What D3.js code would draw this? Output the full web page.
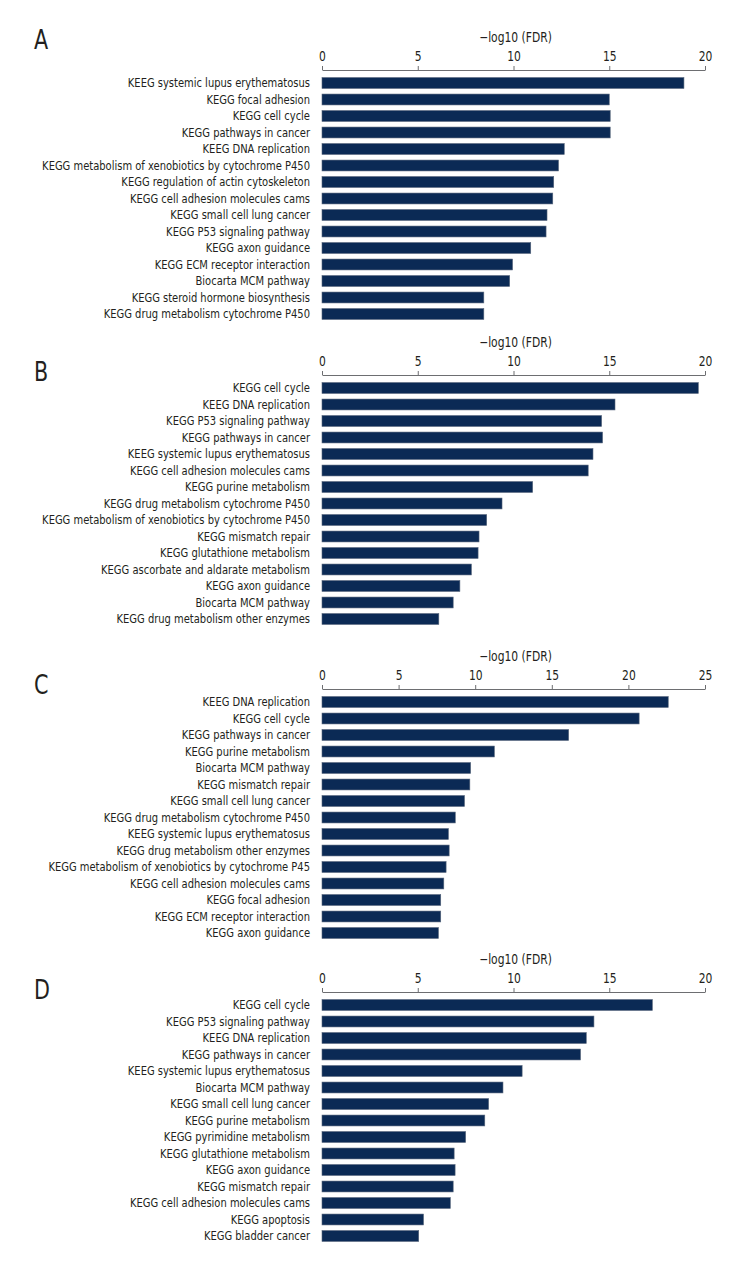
<!DOCTYPE html>
<html>
<head>
<meta charset="utf-8">
<script src="https://cdn.jsdelivr.net/npm/d3@7"></script>
<style>
  html, body { margin: 0; padding: 0; background: #fff; }
  svg { display: block; }
  text { font-family: "Liberation Sans Narrow", "DejaVu Sans Condensed", "Liberation Sans", sans-serif; fill: #231f20; }
</style>
</head>
<body>
<svg id="chart" width="750" height="1275"></svg>
<script>
// ---------- DATA ----------
const axisTitle = "\u2212log10 (FDR)";

const panelLetters = ["A", "B", "C", "D"];

const categoriesA = [
  "KEEG systemic lupus erythematosus",
  "KEGG focal adhesion",
  "KEGG cell cycle",
  "KEGG pathways in cancer",
  "KEEG DNA replication",
  "KEGG metabolism of xenobiotics by cytochrome P450",
  "KEGG regulation of actin cytoskeleton",
  "KEGG cell adhesion molecules cams",
  "KEGG small cell lung cancer",
  "KEGG P53 signaling pathway",
  "KEGG axon guidance",
  "KEGG ECM receptor interaction",
  "Biocarta MCM pathway",
  "KEGG steroid hormone biosynthesis",
  "KEGG drug metabolism cytochrome P450"
];
const valuesA = [18.9, 15.0, 15.05, 15.05, 12.65, 12.35, 12.1, 12.05, 11.75, 11.7, 10.9, 9.95, 9.8, 8.45, 8.45];
const ticksA = [0, 5, 10, 15, 20];

const categoriesB = [
  "KEGG cell cycle",
  "KEEG DNA replication",
  "KEGG P53 signaling pathway",
  "KEGG pathways in cancer",
  "KEEG systemic lupus erythematosus",
  "KEGG cell adhesion molecules cams",
  "KEGG purine metabolism",
  "KEGG drug metabolism cytochrome P450",
  "KEGG metabolism of xenobiotics by cytochrome P450",
  "KEGG mismatch repair",
  "KEGG glutathione metabolism",
  "KEGG ascorbate and aldarate metabolism",
  "KEGG axon guidance",
  "Biocarta MCM pathway",
  "KEGG drug metabolism other enzymes"
];
const valuesB = [19.65, 15.3, 14.6, 14.65, 14.15, 13.9, 11.0, 9.4, 8.6, 8.2, 8.15, 7.8, 7.2, 6.85, 6.1];
const ticksB = [0, 5, 10, 15, 20];

const categoriesC = [
  "KEEG DNA replication",
  "KEGG cell cycle",
  "KEGG pathways in cancer",
  "KEGG purine metabolism",
  "Biocarta MCM pathway",
  "KEGG mismatch repair",
  "KEGG small cell lung cancer",
  "KEGG drug metabolism cytochrome P450",
  "KEEG systemic lupus erythematosus",
  "KEGG drug metabolism other enzymes",
  "KEGG metabolism of xenobiotics by cytochrome P45",
  "KEGG cell adhesion molecules cams",
  "KEGG focal adhesion",
  "KEGG ECM receptor interaction",
  "KEGG axon guidance"
];
const valuesC = [22.6, 20.7, 16.1, 11.25, 9.7, 9.65, 9.3, 8.7, 8.25, 8.3, 8.1, 7.95, 7.75, 7.75, 7.6];
const ticksC = [0, 5, 10, 15, 20, 25];

const categoriesD = [
  "KEGG cell cycle",
  "KEGG P53 signaling pathway",
  "KEEG DNA replication",
  "KEGG pathways in cancer",
  "KEEG systemic lupus erythematosus",
  "Biocarta MCM pathway",
  "KEGG small cell lung cancer",
  "KEGG purine metabolism",
  "KEGG pyrimidine metabolism",
  "KEGG glutathione metabolism",
  "KEGG axon guidance",
  "KEGG mismatch repair",
  "KEGG cell adhesion molecules cams",
  "KEGG apoptosis",
  "KEGG bladder cancer"
];
const valuesD = [17.25, 14.2, 13.8, 13.5, 10.45, 9.45, 8.7, 8.5, 7.5, 6.9, 6.95, 6.85, 6.7, 5.3, 5.05];
const ticksD = [0, 5, 10, 15, 20];

// ---------- LAYOUT ----------
const svg = d3.select("#chart");
const x0 = 322, x1 = 705;
const rowStep = 16.5;
const labelRight = 310;
const longestLabelWidth = 268;

// measure horizontal compression so labels match the condensed original
const probe = svg.append("text").attr("font-size", 12.5)
  .text("KEGG metabolism of xenobiotics by cytochrome P450");
const sx = longestLabelWidth / probe.node().getComputedTextLength();
probe.remove();

const panels = [
  { letter: panelLetters[0], cats: categoriesA, vals: valuesA, ticks: ticksA, firstY: 83,   letterY: 49 },
  { letter: panelLetters[1], cats: categoriesB, vals: valuesB, ticks: ticksB, firstY: 388,  letterY: 381 },
  { letter: panelLetters[2], cats: categoriesC, vals: valuesC, ticks: ticksC, firstY: 702,  letterY: 694 },
  { letter: panelLetters[3], cats: categoriesD, vals: valuesD, ticks: ticksD, firstY: 1005, letterY: 999 }
];

panels.forEach(p => {
  const g = svg.append("g");
  const xMax = p.ticks[p.ticks.length - 1];
  const x = d3.scaleLinear().domain([0, xMax]).range([x0, x1]);
  const y = d3.scaleBand().domain(p.cats)
    .range([p.firstY - rowStep / 2, p.firstY - rowStep / 2 + rowStep * p.cats.length])
    .paddingInner(0.34).paddingOuter(0.17);

  // panel letter
  g.append("text")
    .attr("transform", `translate(34,${p.letterY}) scale(${sx},1)`)
    .attr("font-size", 26)
    .text(p.letter);

  // axis
  const axisY = p.firstY - 13;
  const axis = d3.axisTop(x).tickValues(p.ticks).tickSize(4).tickSizeOuter(0).tickPadding(5)
    .tickFormat(d3.format("d"));
  const ag = g.append("g").attr("transform", `translate(0,${axisY})`).call(axis);
  ag.select(".domain").attr("stroke", "#6d6e71").attr("stroke-width", 1);
  ag.selectAll(".tick line").attr("stroke", "#6d6e71").attr("stroke-width", 1);
  ag.selectAll(".tick text")
    .attr("font-size", 13.5)
    .attr("font-family", null)
    .attr("fill", "#231f20")
    .each(function() {
      const t = d3.select(this);
      t.attr("transform", `scale(${sx},1)`);
    })
    .attr("x", function(d) { return 0; });
  // keep tick labels centered on ticks despite compression (scale about tick origin)
  ag.selectAll(".tick text").attr("transform", `scale(${sx},1)`);

  // axis title
  g.append("text")
    .attr("transform", `translate(${(x0 + x1) / 2 + 2},${p.firstY - 41}) scale(${sx},1)`)
    .attr("text-anchor", "middle")
    .attr("font-size", 13.5)
    .text(axisTitle);

  // bars
  g.selectAll("rect.bar").data(p.cats).join("rect")
    .attr("class", "bar")
    .attr("x", x(0))
    .attr("y", d => y(d))
    .attr("width", (d, i) => x(p.vals[i]) - x(0))
    .attr("height", y.bandwidth())
    .attr("fill", "#0b2a55")
    .attr("stroke", "#56657a")
    .attr("stroke-width", 0.6);

  // category labels
  g.selectAll("text.lab").data(p.cats).join("text")
    .attr("class", "lab")
    .attr("transform", d => `translate(${labelRight},${y(d) + y.bandwidth() / 2}) scale(${sx},1)`)
    .attr("text-anchor", "end")
    .attr("dy", "0.35em")
    .attr("font-size", 12.5)
    .text(d => d);
});
</script>
</body>
</html>
